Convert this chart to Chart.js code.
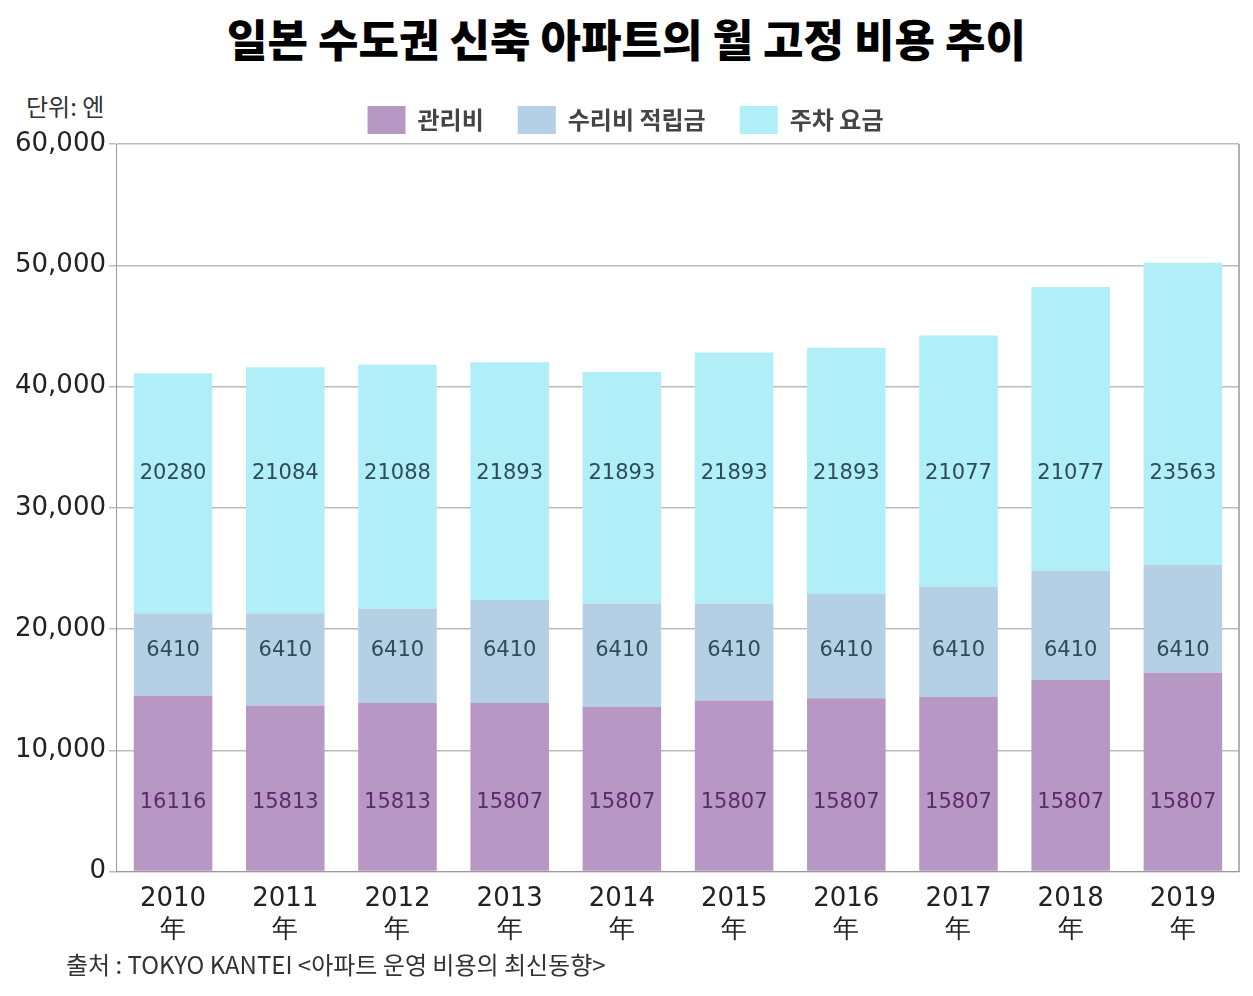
<!DOCTYPE html>
<html><head><meta charset="utf-8">
<script src="https://cdn.jsdelivr.net/npm/chart.js@4/dist/chart.umd.min.js"></script>
<style>
body{margin:0;background:#fff;font-family:"Noto Sans CJK KR",sans-serif;}
#wrap{position:relative;width:1253px;height:996px;}
h1{position:absolute;top:6px;left:0;width:1253px;text-align:center;margin:0;font-size:44px;font-weight:900;}
#unit{position:absolute;top:88px;left:26px;font-size:24px;color:#333;}
#src{position:absolute;top:946px;left:66px;font-size:24px;color:#333;}
#c{position:absolute;top:72px;left:0;}
</style></head><body>
<div id="wrap">
<h1>일본 수도권 신축 아파트의 월 고정 비용 추이</h1>
<div id="unit">단위: 엔</div>
<canvas id="c" width="1253" height="878"></canvas>
<div id="src">출처 : TOKYO KANTEI &lt;아파트 운영 비용의 최신동향&gt;</div>
</div>
<script>
var years = ['2010','2011','2012','2013','2014','2015','2016','2017','2018','2019'];
// bar heights as drawn
var kanri = [14500,13700,13900,13900,13600,14100,14300,14400,15800,16400];
var shuzen = [6800,7600,7800,8500,8500,8000,8600,9100,9000,8900];
var parking = [19800,20300,20100,19600,19100,20700,20300,20700,23400,24900];
// printed labels
var kanriLbl = [16116,15813,15813,15807,15807,15807,15807,15807,15807,15807];
var shuzenLbl = [6410,6410,6410,6410,6410,6410,6410,6410,6410,6410];
var parkingLbl = [20280,21084,21088,21893,21893,21893,21893,21077,21077,23563];

var labelPlugin = {
  id: 'lbl',
  afterDatasetsDraw: function(chart) {
    var ctx = chart.ctx, y = chart.scales.y, a = chart.chartArea;
    var rows = [[kanriLbl, 5700, '#5a2a6a'], [shuzenLbl, 18200, '#2f4a5a'], [parkingLbl, 32800, '#2f4a5a']];
    ctx.save();
    ctx.font = '21px "DejaVu Sans"';
    ctx.textAlign = 'center';
    ctx.textBaseline = 'middle';
    rows.forEach(function(r) {
      chart.getDatasetMeta(0).data.forEach(function(bar, i) {
        ctx.fillStyle = r[2];
        ctx.fillText(String(r[0][i]), bar.x, y.getPixelForValue(r[1]));
      });
    });
    ctx.strokeStyle = '#999';
    ctx.lineWidth = 1.5;
    ctx.beginPath();
    ctx.moveTo(a.right, a.top); ctx.lineTo(a.right, a.bottom);
    ctx.stroke();
    ctx.restore();
  }
};

new Chart(document.getElementById('c'), {
  type: 'bar',
  data: {
    labels: years.map(function(y){ return [y, '年']; }),
    datasets: [
      {label: '관리비', data: kanri, backgroundColor: '#b798c4'},
      {label: '수리비 적립금', data: shuzen, backgroundColor: '#b5cfe4'},
      {label: '주차 요금', data: parking, backgroundColor: '#b0eff7'}
    ]
  },
  options: {
    responsive: false, animation: false,
    layout: {padding: {right: 14, left: 12}},
    datasets: {bar: {barPercentage: 0.7, categoryPercentage: 1}},
    plugins: {
      legend: {labels: {font: {size: 24, family: '"Noto Sans CJK KR"', weight: 'bold'}, color: '#444',
        boxWidth: 38, boxHeight: 28, padding: 34}},
      tooltip: {enabled: false}
    },
    scales: {
      x: {stacked: true, grid: {display: false}, border: {color: '#999'},
        ticks: {font: {size: 26, family: '"DejaVu Sans"'}, color: '#222', padding: 4}},
      y: {stacked: true, min: 0, max: 60000,
        ticks: {stepSize: 10000, font: {size: 26, family: '"DejaVu Sans"'}, color: '#222',
          callback: function(v){ return v.toLocaleString('en-US'); }},
        grid: {color: '#bbb', lineWidth: 1.5}, border: {color: '#999'}}
    }
  },
  plugins: [labelPlugin]
});
</script>
</body></html>
